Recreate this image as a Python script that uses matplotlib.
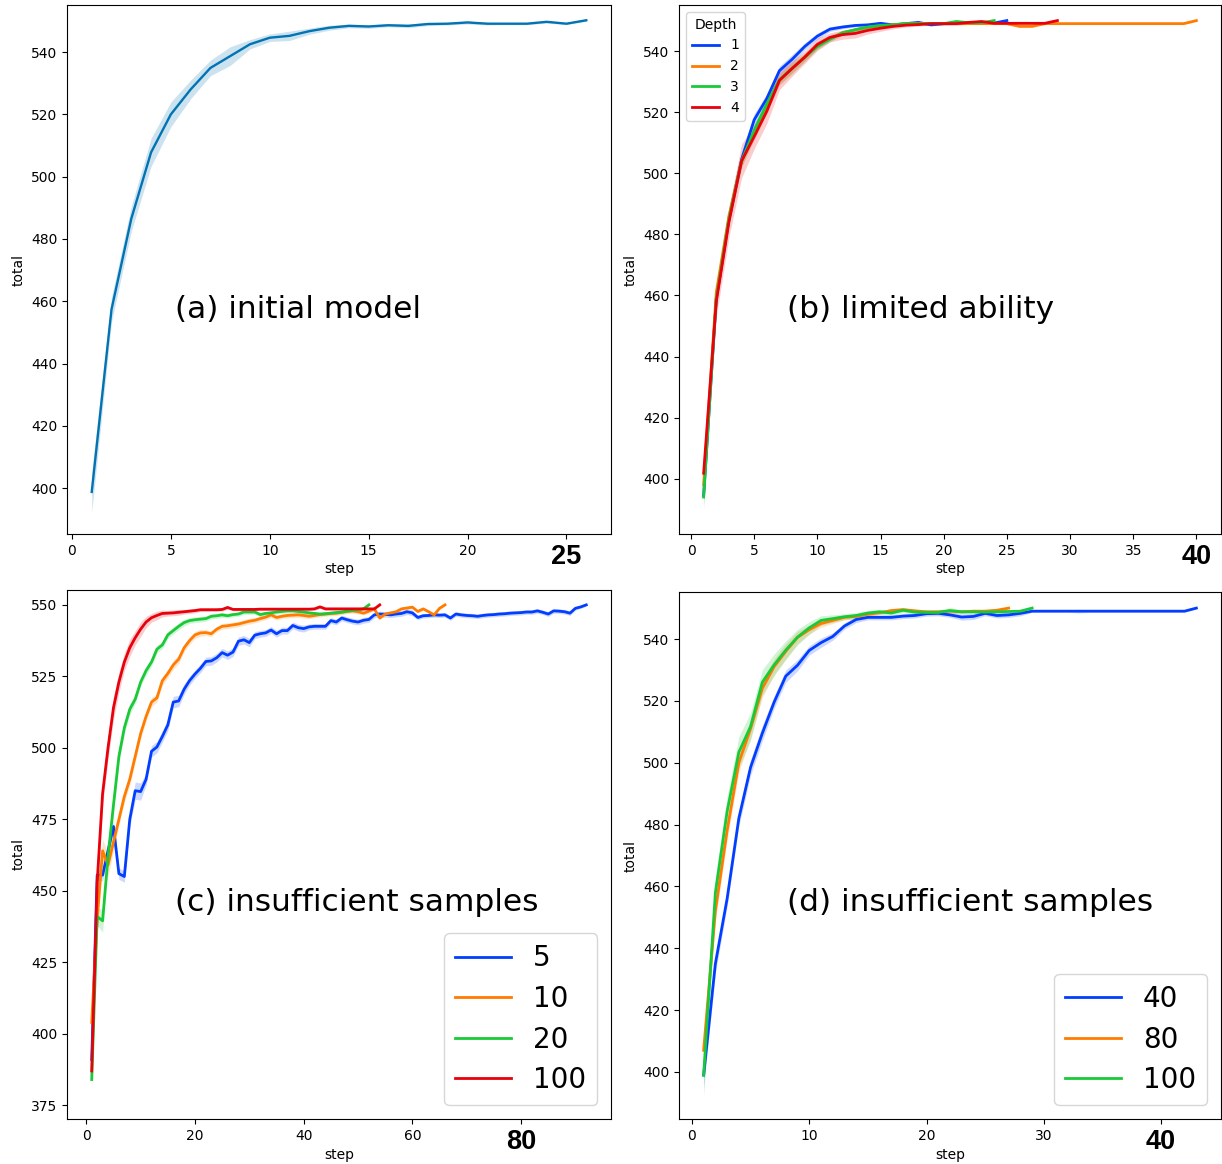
import numpy as np
import matplotlib
matplotlib.use("Agg")
import matplotlib.pyplot as plt

# ---------------- data ----------------
# (a) initial model
a_total = [398.8, 457.4, 486.5, 507.8, 520.0, 528.0, 534.9, 538.7, 542.5, 544.6,
           545.2, 546.7, 547.8, 548.4, 548.2, 548.6, 548.4, 549.0, 549.1, 549.5,
           549.1, 549.1, 549.1, 549.7, 549.1, 550.2]
a_ci = [6.5, 4.0, 4.0, 4.5, 4.0, 3.0, 2.5, 3.0, 1.5, 1.2,
        1.5, 1.0, 0.8, 0.6, 0.6, 0.5, 0.6, 0.5, 0.4, 0.5,
        0.4, 0.3, 0.3, 0.4, 0.3, 0.3]

# (b) limited ability, Depth 1..4
b_labels = ["1", "2", "3", "4"]
b_d1 = [394.5, 459.0, 485.0, 504.5, 517.5, 524.5, 533.6, 537.3, 541.5, 544.9,
        547.2, 547.9, 548.4, 548.6, 549.1, 548.6, 549.0, 549.4, 548.6, 549.0,
        549.0, 549.0, 549.1, 549.2, 550.0]
b_d2 = [398.0, 461.0, 486.0, 504.0, 513.0, 522.0, 530.6, 534.5, 538.0, 542.0,
        544.2, 546.0, 547.0, 547.8, 548.3, 548.6, 549.0, 549.0, 549.0, 549.0,
        549.0, 549.0, 549.0, 549.0, 549.0, 548.1, 548.1, 549.0, 549.0, 549.0,
        549.0, 549.0, 549.0, 549.0, 549.0, 549.0, 549.0, 549.0, 549.0, 550.0]
b_d3 = [394.0, 459.0, 485.0, 504.0, 514.0, 522.7, 530.6, 534.3, 538.0, 541.5,
        543.9, 546.0, 547.0, 547.9, 548.4, 548.6, 549.0, 549.0, 549.0, 549.0,
        549.7, 549.3, 549.3, 550.0]
b_d4 = [401.8, 458.0, 484.0, 504.0, 512.0, 520.3, 530.4, 534.3, 538.0, 542.2,
        544.5, 545.4, 545.8, 546.8, 547.5, 548.1, 548.5, 548.7, 549.0, 549.0,
        549.0, 549.4, 549.7, 549.1, 549.1, 549.1, 549.1, 549.1, 550.0]
b_ci1 = [3.0, 2.0, 2.0, 2.0, 2.0, 1.5, 1.5, 1.5, 1.2, 1.0,
         0.8, 0.6, 0.5, 0.5, 0.4, 0.4, 0.4, 0.4, 0.4, 0.4,
         0.3, 0.3, 0.3, 0.3, 0.3]
b_ci2 = [3.0, 2.0, 2.0, 2.0, 2.0, 1.8, 1.8, 1.8, 1.5, 1.2,
         1.0, 0.8, 0.6, 0.5, 0.5, 0.4, 0.4, 0.4, 0.4, 0.4,
         0.3, 0.3, 0.3, 0.3, 0.3, 0.3, 0.3, 0.3, 0.3, 0.3,
         0.3, 0.3, 0.3, 0.3, 0.3, 0.3, 0.3, 0.3, 0.3, 0.3]
b_ci3 = [4.0, 2.0, 2.0, 2.0, 2.0, 1.5, 1.5, 1.5, 1.2, 1.0,
         0.8, 0.6, 0.5, 0.5, 0.4, 0.4, 0.4, 0.4, 0.4, 0.4,
         0.4, 0.3, 0.3, 0.3]
b_ci4 = [5.0, 5.0, 5.0, 5.5, 4.0, 4.0, 3.0, 2.5, 2.0, 2.0,
         1.5, 1.5, 1.5, 1.2, 1.0, 0.8, 0.6, 0.5, 0.5, 0.5,
         0.5, 0.5, 0.5, 0.4, 0.4, 0.4, 0.4, 0.4, 0.4]

# (c) insufficient samples: 5, 10, 20, 100
c_labels = ["5", "10", "20", "100"]
c_s5 = [391.0, 455.5, 455.5, 464.0, 472.5, 456.0, 455.0, 475.0, 485.0, 484.7,
        489.0, 498.8, 500.3, 504.0, 508.0, 516.0, 516.4, 520.5, 523.5, 525.8,
        527.8, 530.2, 530.4, 531.5, 533.3, 532.4, 533.5, 537.3, 537.8, 536.8,
        539.4, 539.9, 540.2, 541.2, 539.9, 541.0, 541.0, 542.8, 542.0, 541.7,
        542.3, 542.5, 542.5, 542.5, 544.5, 544.0, 545.4, 544.8, 544.3, 544.0,
        544.6, 544.9, 546.5, 546.8, 546.7, 546.5, 546.8, 547.0, 547.6, 547.2,
        545.6, 546.2, 546.3, 546.5, 546.4, 546.5, 545.4, 546.8, 546.5, 546.3,
        546.2, 546.0, 546.3, 546.5, 546.6, 546.8, 546.9, 547.1, 547.2, 547.3,
        547.5, 547.5, 547.9, 547.4, 546.8, 547.9, 547.8, 547.6, 547.1, 548.8,
        549.3, 550.0]
c_s10 = [404.0, 440.0, 464.0, 459.0, 467.0, 475.0, 483.0, 489.0, 497.0, 505.0,
         511.0, 516.0, 517.5, 523.5, 526.0, 529.0, 531.0, 535.0, 537.5, 539.5,
         540.2, 540.3, 539.9, 541.5, 542.5, 542.7, 543.0, 543.3, 543.8, 544.3,
         544.6, 545.2, 545.7, 546.5, 545.6, 546.0, 546.3, 546.4, 546.5, 546.3,
         546.0, 546.3, 546.6, 546.8, 547.0, 547.1, 547.4, 547.7, 547.9, 547.6,
         547.1, 547.8, 548.6, 545.4, 546.8, 547.2, 547.6, 548.6, 548.9, 549.2,
         547.7, 548.6, 547.6, 546.5, 548.8, 550.0]
c_s20 = [384.0, 441.0, 439.5, 462.0, 480.0, 497.0, 507.0, 513.5, 517.0, 523.0,
         527.0, 530.0, 534.5, 536.0, 539.5, 541.0, 542.5, 543.8, 544.5, 544.8,
         545.0, 545.2, 546.0, 546.2, 546.5, 546.2, 546.6, 546.8, 547.5, 547.5,
         547.5, 546.6, 547.0, 547.2, 547.5, 547.7, 547.9, 547.9, 547.7, 547.5,
         547.2, 547.0, 546.8, 546.9, 547.1, 547.3, 547.5, 547.8, 548.1, 548.3,
         548.6, 550.0]
c_s100 = [387.0, 453.0, 484.0, 500.0, 514.0, 523.0, 530.0, 535.0, 538.5, 541.5,
          544.0, 545.5, 546.3, 547.0, 547.1, 547.2, 547.4, 547.6, 547.8, 548.0,
          548.3, 548.3, 548.3, 548.3, 548.4, 549.1, 548.4, 548.4, 548.4, 548.4,
          548.4, 548.5, 548.5, 548.5, 548.5, 548.5, 548.5, 548.5, 548.5, 548.5,
          548.5, 548.6, 549.3, 548.6, 548.6, 548.6, 548.6, 548.6, 548.6, 548.6,
          548.6, 548.6, 548.6, 550.0]
c_ci5 = [3.0, 2.0, 2.0, 2.0, 2.0, 2.0, 2.0, 2.5, 3.0, 3.0,
         2.0, 2.0, 2.0, 2.0, 2.0, 2.0, 2.0, 1.8, 1.5, 1.5,
         1.5, 1.5, 1.5, 1.5, 1.5, 1.5, 1.5, 1.5, 1.5, 1.5,
         1.2, 1.2, 1.2, 1.2, 1.2, 1.2, 1.2, 1.2, 1.2, 1.2,
         1.0, 1.0, 1.0, 1.0, 1.0, 1.0, 1.0, 1.0, 1.0, 1.0,
         1.0, 1.0, 1.0, 1.0, 1.0, 1.0, 1.0, 1.0, 1.0, 1.0,
         0.8, 0.8, 0.8, 0.8, 0.8, 0.8, 0.8, 0.8, 0.8, 0.8,
         0.8, 0.8, 0.8, 0.8, 0.8, 0.8, 0.8, 0.8, 0.8, 0.8,
         0.8, 0.8, 0.8, 0.8, 0.8, 0.8, 0.8, 0.8, 0.8, 0.6,
         0.5, 0.4]
c_ci10 = [5.0, 4.0, 4.0, 4.0, 3.0, 2.0, 2.0, 2.0, 1.8, 1.8,
          1.6, 1.6, 1.5, 1.5, 1.5, 1.5, 1.5, 1.3, 1.3, 1.2,
          1.2, 1.0, 1.0, 1.0, 1.0, 1.0, 1.0, 1.0, 1.0, 1.0,
          0.9, 0.9, 0.9, 0.9, 0.9, 0.9, 0.9, 0.9, 0.9, 0.9,
          0.8, 0.8, 0.8, 0.8, 0.8, 0.8, 0.8, 0.8, 0.8, 0.8,
          0.6, 0.6, 0.6, 0.6, 0.6, 0.6, 0.6, 0.6, 0.6, 0.6,
          0.5, 0.5, 0.5, 0.5, 0.5, 0.4]
c_ci20 = [3.0, 3.0, 4.0, 3.0, 3.0, 2.5, 2.0, 2.0, 1.5, 1.5,
          1.5, 1.5, 1.3, 1.3, 1.3, 1.2, 1.2, 1.2, 1.0, 1.0,
          1.0, 0.9, 0.9, 0.9, 0.9, 0.8, 0.8, 0.8, 0.8, 0.8,
          0.8, 0.8, 0.7, 0.7, 0.7, 0.7, 0.7, 0.7, 0.7, 0.7,
          0.6, 0.6, 0.6, 0.6, 0.6, 0.6, 0.6, 0.6, 0.6, 0.5,
          0.5, 0.4]
c_ci100 = [4.0, 5.0, 4.0, 4.0, 4.0, 3.5, 3.0, 3.0, 2.5, 2.5,
           2.0, 1.5, 1.5, 1.2, 1.0, 1.0, 1.0, 0.8, 0.8, 0.8,
           0.6, 0.6, 0.6, 0.6, 0.6, 0.6, 0.5, 0.5, 0.5, 0.5,
           0.5, 0.5, 0.5, 0.5, 0.5, 0.5, 0.5, 0.5, 0.5, 0.5,
           0.5, 0.5, 0.5, 0.5, 0.5, 0.5, 0.5, 0.5, 0.5, 0.5,
           0.4, 0.4, 0.4, 0.3]

# (d) insufficient samples: 40, 80, 100
d_labels = ["40", "80", "100"]
d_s40 = [399.0, 435.0, 456.0, 482.0, 498.5, 509.5, 519.5, 528.0, 531.5, 536.3,
         538.8, 540.8, 544.2, 546.3, 547.0, 547.0, 547.0, 547.4, 547.6, 548.2,
         548.3, 547.8, 547.1, 547.3, 548.3, 547.6, 547.8, 548.3, 549.0, 549.0,
         549.0, 549.0, 549.0, 549.0, 549.0, 549.0, 549.0, 549.0, 549.0, 549.0,
         549.0, 549.0, 550.0]
d_s80 = [407.0, 452.0, 478.0, 500.0, 511.0, 524.0, 531.0, 536.0, 540.5, 543.0,
         545.0, 546.0, 547.0, 547.3, 548.0, 548.5, 549.2, 549.5, 549.1, 548.8,
         548.8, 549.0, 548.8, 549.0, 549.0, 549.3, 550.0]
d_s100 = [399.0, 458.0, 484.2, 503.4, 511.7, 526.0, 531.6, 536.4, 540.6, 543.6,
          546.0, 546.6, 547.2, 547.6, 548.4, 548.8, 548.4, 549.3, 548.7, 548.6,
          548.6, 549.2, 548.8, 548.8, 548.7, 548.8, 548.9, 549.0, 550.0]
d_ci40 = [4.0, 3.0, 2.5, 2.5, 2.5, 2.5, 2.0, 2.0, 1.8, 1.5,
          1.5, 1.2, 1.0, 1.0, 0.8, 0.8, 0.8, 0.8, 0.8, 0.8,
          0.8, 0.8, 1.0, 1.0, 0.8, 0.8, 0.8, 0.8, 0.4, 0.3,
          0.3, 0.3, 0.6, 0.3, 0.3, 0.3, 0.3, 0.3, 0.3, 0.3,
          0.3, 0.3, 0.3]
d_ci80 = [5.0, 3.0, 3.0, 3.0, 3.0, 3.0, 2.5, 2.5, 2.0, 1.5,
          1.2, 1.0, 0.8, 0.8, 0.6, 0.6, 0.6, 0.6, 0.6, 0.5,
          0.5, 0.5, 0.5, 0.5, 0.5, 0.4, 0.3]
d_ci100 = [7.0, 5.0, 5.0, 5.0, 4.5, 4.0, 3.5, 3.0, 2.5, 2.0,
           1.5, 1.2, 1.0, 1.0, 0.8, 0.8, 0.8, 0.8, 0.8, 0.8,
           0.8, 1.0, 0.6, 0.6, 0.6, 0.6, 0.6, 0.5, 0.4]

# ---------------- style ----------------
BRIGHT = ["#023eff", "#ff7c00", "#1ac938", "#e8000b"]
CB_BLUE = "#0173b2"

W, H = 1222, 1164
fig = plt.figure(figsize=(W / 100, H / 100), dpi=100)


def rect(l, t, r, b):
    return [l / W, 1 - b / H, (r - l) / W, (b - t) / H]


def draw(ax, series, cis, colors, labels, lw):
    for vals, ci, col, lab in zip(series, cis, colors, labels):
        v = np.asarray(vals)
        c = np.asarray(ci)
        x = np.arange(1, len(v) + 1)
        ax.plot(x, v, color=col, lw=lw, label=lab)
        ax.fill_between(x, v - c, v + c, color=col, alpha=0.2, lw=0)


def finish(ax, xticks, yticks, xlim, ylim, text, tx, ty, xlab_y):
    ax.set_xlim(*xlim)
    ax.set_ylim(*ylim)
    ax.set_xticks(xticks, labels=[str(t) for t in xticks])
    ax.set_yticks(yticks)
    ax.tick_params(labelsize=10)
    last = ax.get_xticklabels()[-1]
    last.set_fontfamily("Liberation Sans")
    last.set_fontweight("bold")
    last.set_fontsize(19.5)
    ax.set_xlabel("step", fontsize=10)
    ax.xaxis.set_label_coords(0.5, xlab_y)
    ax.set_ylabel("total", fontsize=10)
    ax.text(tx, ty, text, transform=ax.transAxes, fontsize=22.5,
            va="center", ha="left")


# (a)
ax_a = fig.add_axes(rect(67, 5, 611, 534))
draw(ax_a, [a_total], [a_ci], [CB_BLUE], [None], 1.7)
finish(ax_a, [0, 5, 10, 15, 20, 25], list(range(400, 541, 20)),
       (-0.25, 27.25), (385.3, 555.1), "(a) initial model", 0.199, 0.425,
       -0.052)

# (b)
ax_b = fig.add_axes(rect(679, 5, 1221, 534))
draw(ax_b, [b_d1, b_d2, b_d3, b_d4], [b_ci1, b_ci2, b_ci3, b_ci4],
     BRIGHT, b_labels, 2.0)
finish(ax_b, [0, 5, 10, 15, 20, 25, 30, 35, 40], list(range(400, 541, 20)),
       (-0.95, 41.95), (381.9, 555.1), "(b) limited ability", 0.2, 0.425,
       -0.052)
ax_b.legend(title="Depth", loc="upper left", fontsize=10, title_fontsize=10)

# (c)
ax_c = fig.add_axes(rect(67, 590, 611, 1119))
draw(ax_c, [c_s5, c_s10, c_s20, c_s100], [c_ci5, c_ci10, c_ci20, c_ci100],
     BRIGHT, c_labels, 2.0)
finish(ax_c, [0, 20, 40, 60, 80], list(range(375, 551, 25)),
       (-3.55, 96.55), (370.2, 555.2), "(c) insufficient samples", 0.199, 0.41,
       -0.055)
ax_c.legend(loc="lower right", fontsize=20, labelspacing=0.45)

# (d)
ax_d = fig.add_axes(rect(679, 592, 1221, 1119))
draw(ax_d, [d_s40, d_s80, d_s100], [d_ci40, d_ci80, d_ci100],
     BRIGHT[:3], d_labels, 2.0)
finish(ax_d, [0, 10, 20, 30, 40], list(range(400, 541, 20)),
       (-1.1, 45.1), (384.8, 555.2), "(d) insufficient samples", 0.2, 0.41,
       -0.055)
ax_d.legend(loc="lower right", fontsize=20, labelspacing=0.45)

fig.savefig("out.png", dpi=100)
